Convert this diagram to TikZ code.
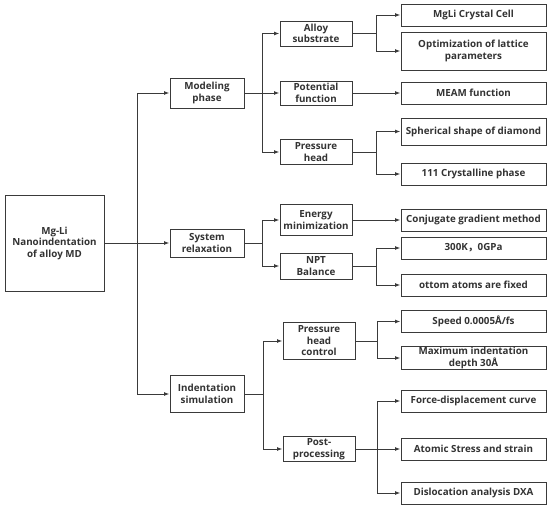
\documentclass[tikz,border=0pt]{standalone}
\usepackage{fontspec}
\setmainfont{Open Sans}
\newfontfamily\cjk{Noto Sans CJK SC}
\usepackage{tikz}
\usetikzlibrary{arrows.meta,positioning}
\definecolor{LineGray}{HTML}{3A3A3A}
\definecolor{TextGray}{HTML}{333333}

\begin{document}
\begin{tikzpicture}[x=1pt,y=-1pt,>={Latex[length=5.5pt,width=4pt]}]
\tikzstyle{box}=[rectangle,draw=LineGray,line width=1pt,fill=white,text=TextGray,font=\fontsize{9.8pt}{11.5pt}\selectfont\bfseries,align=center,inner sep=1pt]
\tikzstyle{lvone}=[box,minimum width=74pt]
\tikzstyle{lvtwo}=[box,minimum width=72pt]
\tikzstyle{leaf}=[box,minimum width=145pt,minimum height=22pt]
\tikzstyle{link}=[->,draw=LineGray,line width=1pt]
\useasboundingbox (0,0) rectangle (550,509);
% root and first level
\node[box,minimum width=99pt,minimum height=96pt] (root) at (54.5,243) {Mg-Li\\Nanoindentation\\of alloy MD};
\node[lvone,minimum height=30pt] (model) at (207,93) {Modeling\\phase};
\node[lvone,minimum height=28pt] (relax) at (207,243) {System\\relaxation};
\node[lvone,minimum height=37pt] (indent) at (207,394) {Indentation\\simulation};
% second level
\node[lvtwo,minimum height=25pt] (alloy) at (316,33.5) {Alloy\\substrate};
\node[lvtwo,minimum height=24pt] (potential) at (316,93) {Potential\\function};
\node[lvtwo,minimum height=25pt] (head) at (316,152) {Pressure\\head};
\node[lvtwo,minimum height=31pt] (energy) at (316,220) {Energy\\minimization};
\node[lvtwo,minimum height=26pt] (npt) at (316,266) {NPT\\Balance};
\node[lvtwo,minimum height=37pt] (control) at (319,341) {Pressure\\head\\control};
\node[lvtwo,minimum height=25pt] (post) at (319,449) {Post-\\processing};
% leaves
\node[leaf] (cell) at (473.5,15) {MgLi Crystal Cell};
\node[leaf,minimum height=38pt] (lattice) at (473.5,51) {Optimization of lattice\\parameters};
\node[leaf] (meam) at (473.5,93) {MEAM function};
\node[leaf,minimum height=27pt] (sphere) at (473.5,131.5) {Spherical shape of diamond};
\node[leaf] (phase) at (473.5,174) {111 Crystalline phase};
\node[leaf] (conj) at (473.5,220) {Conjugate gradient method};
\node[leaf] (temp) at (473.5,248) {300K{\cjk ，}0GPa};
\node[leaf] (fixed) at (473.5,285) {ottom atoms are fixed};
\node[leaf] (speed) at (473.5,321.5) {Speed 0.0005Å/fs};
\node[leaf] (depth) at (473.5,358) {Maximum indentation\\depth 30Å};
\node[leaf] (force) at (473.5,401) {Force-displacement curve};
\node[leaf] (stress) at (473.5,449) {Atomic Stress and strain};
\node[leaf] (dxa) at (473.5,493) {Dislocation analysis DXA};
% connectors
\draw[link] (root.east) -- ++(33,0) |- (model.west);
\draw[link] (root.east) -- (relax.west);
\draw[link] (root.east) -- ++(33,0) |- (indent.west);
\draw[link] (model.east) -- ++(18,0) |- (alloy.west);
\draw[link] (model.east) -- (potential.west);
\draw[link] (model.east) -- ++(18,0) |- (head.west);
\draw[link] (relax.east) -- ++(18,0) |- (energy.west);
\draw[link] (relax.east) -- ++(18,0) |- (npt.west);
\draw[link] (indent.east) -- ++(19,0) |- (control.west);
\draw[link] (indent.east) -- ++(19,0) |- (post.west);
\draw[link] (alloy.east) -- ++(24,0) |- (cell.west);
\draw[link] (alloy.east) -- ++(24,0) |- (lattice.west);
\draw[link] (potential.east) -- (meam.west);
\draw[link] (head.east) -- ++(24,0) |- (sphere.west);
\draw[link] (head.east) -- ++(24,0) |- (phase.west);
\draw[link] (energy.east) -- (conj.west);
\draw[link] (npt.east) -- ++(24,0) |- (temp.west);
\draw[link] (npt.east) -- ++(24,0) |- (fixed.west);
\draw[link] (control.east) -- ++(22,0) |- (speed.west);
\draw[link] (control.east) -- ++(22,0) |- (depth.west);
\draw[link] (post.east) -- ++(22,0) |- (force.west);
\draw[link] (post.east) -- (stress.west);
\draw[link] (post.east) -- ++(22,0) |- (dxa.west);
\end{tikzpicture}
\end{document}
